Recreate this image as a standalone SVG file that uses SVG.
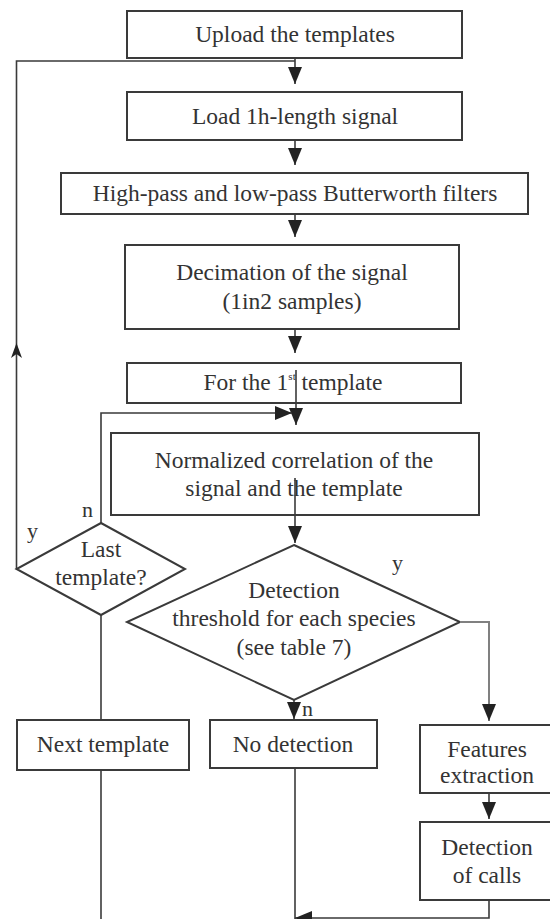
<svg xmlns="http://www.w3.org/2000/svg" width="550" height="919" viewBox="0 0 550 919">
<defs>
<style>
.box{fill:#fff;stroke:#3a3a3a;stroke-width:2}
.t{font-family:"Liberation Serif","Times New Roman",serif;font-size:23.5px;fill:#333;text-anchor:middle}
.c{fill:none;stroke:#3a3a3a;stroke-width:1.6}
.g{fill:none;stroke:#808080;stroke-width:2}
.lbl{font-family:"Liberation Serif","Times New Roman",serif;font-size:22px;fill:#333}
</style>
<marker id="arr" viewBox="0 0 17 14" markerWidth="17" markerHeight="14" refX="17" refY="7" orient="auto" markerUnits="userSpaceOnUse">
<path d="M0,0 L17,7 L0,14 z" fill="#222"/>
</marker>
</defs>
<rect width="550" height="919" fill="#fff"/>
<g id="upload"><rect class="box" x="127" y="11" width="335" height="47"/><text class="t" x="295" y="42">Upload the templates</text></g>
<g id="load"><rect class="box" x="127" y="92" width="335" height="48"/><text class="t" x="295" y="124">Load 1h-length signal</text></g>
<g id="filters"><rect class="box" x="61" y="173" width="467" height="41"/><text class="t" x="295" y="201">High-pass and low-pass Butterworth filters</text></g>
<g id="decimation"><rect class="box" x="125" y="245" width="334" height="84"/><text class="t" x="292" y="280">Decimation of the signal</text><text class="t" x="292" y="309">(1in2 samples)</text></g>
<g id="first"><rect class="box" x="127" y="363" width="334" height="40"/><text class="t" x="293" y="390">For the 1<tspan font-size="11" dy="-10">st</tspan><tspan dy="10"> template</tspan></text></g>
<g id="normalized"><rect class="box" x="111" y="433" width="368" height="82"/><text class="t" x="294" y="468">Normalized correlation of the</text><text class="t" x="294" y="496">signal and the template</text></g>
<g id="threshold"><polygon class="box" points="294,545 460,622 294,700 127,622"/><text class="t" x="294" y="598">Detection</text><text class="t" x="294" y="626">threshold for each species</text><text class="t" x="294" y="655">(see table 7)</text></g>
<g id="last"><polygon class="box" points="101,523 185,569 101,615 16.5,569"/><text class="t" x="101" y="557">Last</text><text class="t" x="101" y="585">template?</text></g>
<g id="next"><rect class="box" x="17" y="720" width="172" height="50"/><text class="t" x="103" y="752">Next template</text></g>
<g id="nodetect"><rect class="box" x="210" y="720" width="167" height="48"/><text class="t" x="293" y="752">No detection</text></g>
<g id="features"><rect class="box" x="420" y="725" width="140" height="68"/><text class="t" x="487" y="757">Features</text><text class="t" x="487" y="783">extraction</text></g>
<g id="calls"><rect class="box" x="420" y="822" width="140" height="78"/><text class="t" x="487" y="855">Detection</text><text class="t" x="487" y="883">of calls</text></g>
<g id="connectors">
<path class="c" d="M16.5,569 V61 H295"/>
<polygon points="16.5,343 22,358 16.5,354 11,358" fill="#222"/>
<path class="c" d="M295,58 V84" marker-end="url(#arr)"/>
<path class="c" d="M295,140 V165" marker-end="url(#arr)"/>
<path class="c" d="M295,214 V237" marker-end="url(#arr)"/>
<path class="c" d="M295,329 V353" marker-end="url(#arr)"/>
<path class="c" d="M296,370 V425" marker-end="url(#arr)"/>
<path class="c" d="M101,523 V413 H292" marker-end="url(#arr)"/>
<path class="c" d="M295,478 V543" marker-end="url(#arr)"/>
<path class="c" d="M294,700 V719" marker-end="url(#arr)"/>
<path class="g" d="M460,622 H489 V721" marker-end="url(#arr)"/>
<path class="c" d="M101,615 V720"/>
<path class="c" d="M101,770 V919"/>
<path class="c" d="M295,768 V919"/>
<path class="c" d="M489,793 V819" marker-end="url(#arr)"/>
<path class="c" d="M489,900 V918 H295" marker-end="url(#arr)"/>
<text class="lbl" x="82" y="517">n</text>
<text class="lbl" x="27" y="538">y</text>
<text class="lbl" x="392" y="570">y</text>
<text class="lbl" x="302" y="716">n</text>
</g>
</svg>
